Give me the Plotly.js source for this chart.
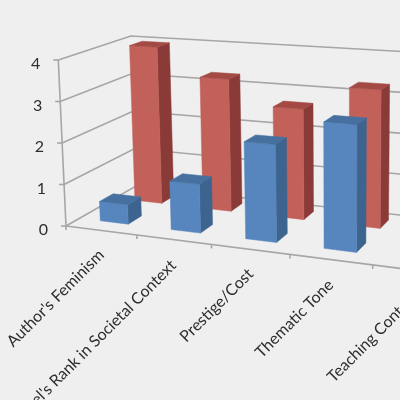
<!DOCTYPE html>
<html><head><meta charset="utf-8">
<script src="https://cdn.plot.ly/plotly-3.0.1.min.js"></script>
<style>html,body{margin:0;padding:0;background:#efefef;overflow:hidden;width:400px;height:400px}#c{width:500px;height:400px;filter:blur(0.5px)}</style>
</head><body><div id="c"></div>
<script>
const categories = ["Author's Feminism","Novel's Rank in Societal Context","Prestige/Cost","Thematic Tone","Teaching Context"];
const blueValues = [0.47,1.15,2.25,2.86];
const redValues = [3.97,3.28,2.68,3.28];
const valueTicks = [0,1,2,3,4];
const blueStyle = {front:'#5686BD',side:'#3C648F',top:'#45709F',d0:0.18,d1:0.37};
const redStyle = {front:'#C2605A',side:'#8B3B37',top:'#A34A45',d0:0.68,d1:0.87};

const p0=[66,226],p1=[460,276],p3=[136,186],G=-0.122,Hh=0.107,H0=166,VX=340,VY=5900;
function P(c,d,v){
  const u=c/5,w=1+G*u+Hh*d;
  const ax=p1[0]*(1+G)-p0[0],bx=p3[0]*(1+Hh)-p0[0];
  const ay=p1[1]*(1+G)-p0[1],by=p3[1]*(1+Hh)-p0[1];
  const x=(ax*u+bx*d+p0[0])/w,y=(ay*u+by*d+p0[1])/w;
  const h=H0/w*v/4;
  return [x+(x-VX)/VY*h,y-h];
}
const traces=[];
function line(pts,color,w){
  traces.push({type:'scatter',mode:'lines',x:pts.map(p=>p[0]),y:pts.map(p=>p[1]),
    line:{color:color||'#a6a6a6',width:w||1.6},hoverinfo:'skip',showlegend:false});
}
function face(pts,color){
  const c=pts.concat([pts[0]]);
  traces.push({type:'scatter',mode:'lines',x:c.map(p=>p[0]),y:c.map(p=>p[1]),fill:'toself',fillcolor:color,
    line:{color:color,width:0.5},hoverinfo:'skip',showlegend:false});
}
valueTicks.forEach(v=>{
  line([P(0,0,v),P(0,1,v),P(5,1,v)]);
  const p=P(0,0,v); line([[p[0]-5,p[1]],p]);
});
line([P(0,0,0),P(0,0,4)]);
line([P(0,0,0),P(5,0,0)]);
for(let c=0;c<=5;c++){const p=P(c,0,0);line([p,[p[0],p[1]+4]]);}
function bar(i,val,s){
  const c0=i+0.3,c1=i+0.7;
  face([P(c1,s.d0,0),P(c1,s.d0,val),P(c1,s.d1,val),P(c1,s.d1,0)],s.side);
  face([P(c0,s.d0,0),P(c1,s.d0,0),P(c1,s.d0,val),P(c0,s.d0,val)],s.front);
  face([P(c0,s.d0,val),P(c1,s.d0,val),P(c1,s.d1,val),P(c0,s.d1,val)],s.top);
}
redValues.forEach((v,i)=>bar(i,v,redStyle));
blueValues.forEach((v,i)=>bar(i,v,blueStyle));
traces.push({type:'scatter',mode:'text',x:valueTicks.map(v=>P(0,0,v)[0]-18),y:valueTicks.map(v=>P(0,0,v)[1]+5),
  text:valueTicks.map(String),textposition:'middle left',textfont:{family:'Lato, sans-serif',size:16,color:'#2e2e2e'},
  hoverinfo:'skip',showlegend:false,cliponaxis:false});
const annotations=categories.map((t,i)=>{
  const p=P(i+0.5,0,0);
  return {text:t,x:p[0]+9,y:p[1]+12,xref:'x',yref:'y',xanchor:'right',yanchor:'top',textangle:-45,showarrow:false,
    font:{family:'Lato, sans-serif',size:16,color:'#2e2e2e'}};
});
Plotly.newPlot('c',traces,{width:500,height:400,margin:{l:0,r:0,t:0,b:0},paper_bgcolor:'#efefef',plot_bgcolor:'#efefef',
  xaxis:{range:[0,500],visible:false,fixedrange:true},yaxis:{range:[400,0],visible:false,fixedrange:true},
  showlegend:false,annotations},{displayModeBar:false,staticPlot:true});
</script></body></html>
